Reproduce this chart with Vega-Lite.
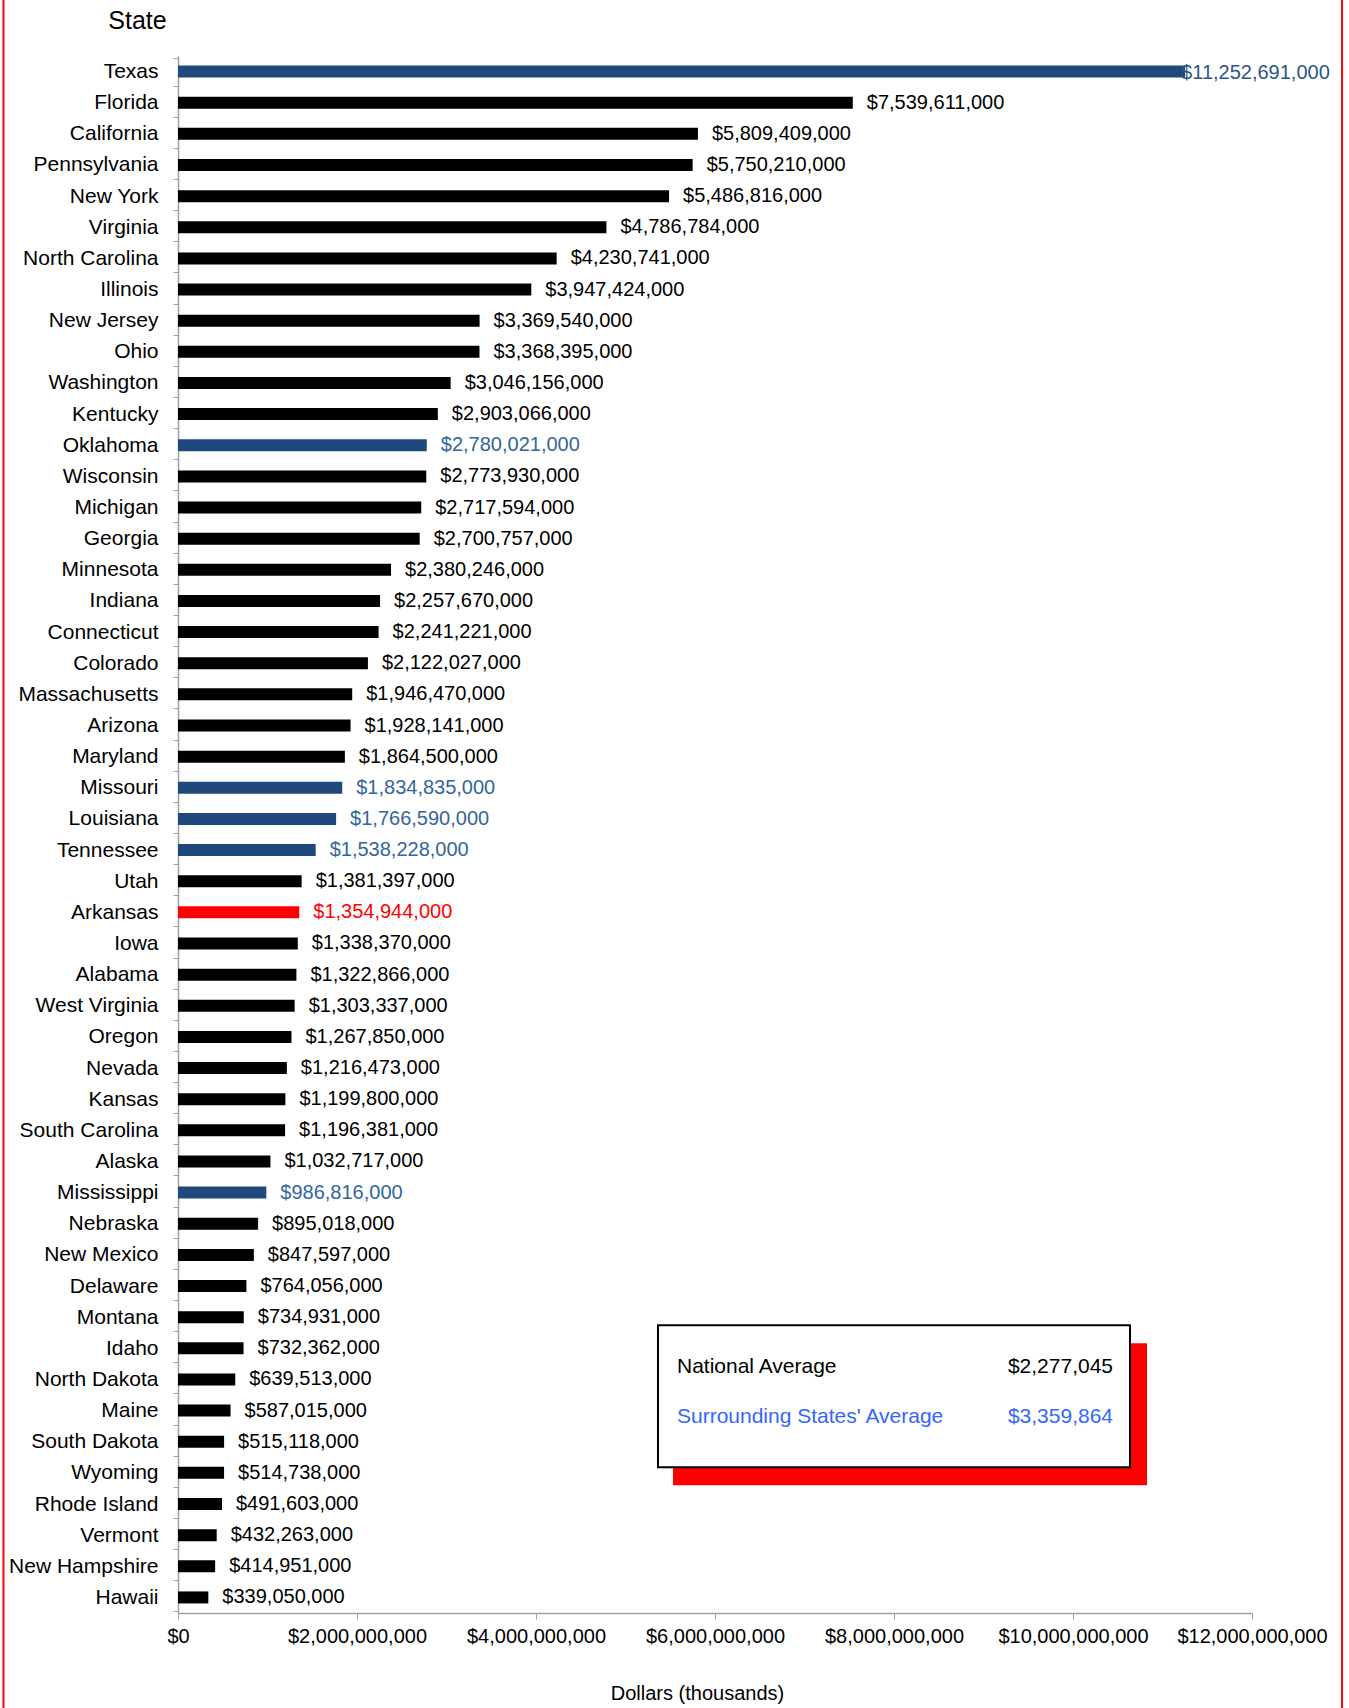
{
  "$schema": "https://vega.github.io/schema/vega-lite/v6.json",
  "width": 1074,
  "height": 1557,
  "autosize": "none",
  "padding": {"left": 178, "top": 56, "right": 97, "bottom": 95},
  "background": "white",
  "config": {
    "font": "Liberation Sans",
    "view": {"stroke": null}
  },
  "datasets": {
    "states": [
      {"state": "Texas", "value": 11252691000, "group": "surround"},
      {"state": "Florida", "value": 7539611000, "group": "other"},
      {"state": "California", "value": 5809409000, "group": "other"},
      {"state": "Pennsylvania", "value": 5750210000, "group": "other"},
      {"state": "New York", "value": 5486816000, "group": "other"},
      {"state": "Virginia", "value": 4786784000, "group": "other"},
      {"state": "North Carolina", "value": 4230741000, "group": "other"},
      {"state": "Illinois", "value": 3947424000, "group": "other"},
      {"state": "New Jersey", "value": 3369540000, "group": "other"},
      {"state": "Ohio", "value": 3368395000, "group": "other"},
      {"state": "Washington", "value": 3046156000, "group": "other"},
      {"state": "Kentucky", "value": 2903066000, "group": "other"},
      {"state": "Oklahoma", "value": 2780021000, "group": "surround"},
      {"state": "Wisconsin", "value": 2773930000, "group": "other"},
      {"state": "Michigan", "value": 2717594000, "group": "other"},
      {"state": "Georgia", "value": 2700757000, "group": "other"},
      {"state": "Minnesota", "value": 2380246000, "group": "other"},
      {"state": "Indiana", "value": 2257670000, "group": "other"},
      {"state": "Connecticut", "value": 2241221000, "group": "other"},
      {"state": "Colorado", "value": 2122027000, "group": "other"},
      {"state": "Massachusetts", "value": 1946470000, "group": "other"},
      {"state": "Arizona", "value": 1928141000, "group": "other"},
      {"state": "Maryland", "value": 1864500000, "group": "other"},
      {"state": "Missouri", "value": 1834835000, "group": "surround"},
      {"state": "Louisiana", "value": 1766590000, "group": "surround"},
      {"state": "Tennessee", "value": 1538228000, "group": "surround"},
      {"state": "Utah", "value": 1381397000, "group": "other"},
      {"state": "Arkansas", "value": 1354944000, "group": "arkansas"},
      {"state": "Iowa", "value": 1338370000, "group": "other"},
      {"state": "Alabama", "value": 1322866000, "group": "other"},
      {"state": "West Virginia", "value": 1303337000, "group": "other"},
      {"state": "Oregon", "value": 1267850000, "group": "other"},
      {"state": "Nevada", "value": 1216473000, "group": "other"},
      {"state": "Kansas", "value": 1199800000, "group": "other"},
      {"state": "South Carolina", "value": 1196381000, "group": "other"},
      {"state": "Alaska", "value": 1032717000, "group": "other"},
      {"state": "Mississippi", "value": 986816000, "group": "surround"},
      {"state": "Nebraska", "value": 895018000, "group": "other"},
      {"state": "New Mexico", "value": 847597000, "group": "other"},
      {"state": "Delaware", "value": 764056000, "group": "other"},
      {"state": "Montana", "value": 734931000, "group": "other"},
      {"state": "Idaho", "value": 732362000, "group": "other"},
      {"state": "North Dakota", "value": 639513000, "group": "other"},
      {"state": "Maine", "value": 587015000, "group": "other"},
      {"state": "South Dakota", "value": 515118000, "group": "other"},
      {"state": "Wyoming", "value": 514738000, "group": "other"},
      {"state": "Rhode Island", "value": 491603000, "group": "other"},
      {"state": "Vermont", "value": 432263000, "group": "other"},
      {"state": "New Hampshire", "value": 414951000, "group": "other"},
      {"state": "Hawaii", "value": 339050000, "group": "other"}
    ],
    "box": [
      {"part": "shadow", "x": 5531000000, "x2": 10827000000, "r": 41.34, "r2": 45.9},
      {"part": "box", "x": 5363000000, "x2": 10637000000, "r": 40.76, "r2": 45.32}
    ],
    "legendText": [
      {"series": "national", "label": "National Average", "amount": "$2,277,045", "x": 5575000000, "x2": 10447000000, "r": 42.11},
      {"series": "surround", "label": "Surrounding States' Average", "amount": "$3,359,864", "x": 5575000000, "x2": 10447000000, "r": 43.69}
    ],
    "border": [
      {"x": -1950000000, "r": -1.8, "r2": 53.2},
      {"x": 13006000000, "r": -1.8, "r2": 53.2}
    ]
  },
  "layer": [
    {
      "data": {"name": "states"},
      "encoding": {
        "y": {
          "field": "state",
          "type": "nominal",
          "sort": null,
          "axis": {
            "title": "State",
            "titleAngle": 0,
            "titleX": -41,
            "titleY": -36,
            "titleAlign": "center",
            "titleBaseline": "middle",
            "titleFontSize": 25,
            "titleFontWeight": "normal",
            "titleColor": "black",
            "labelFontSize": 21,
            "labelColor": "black",
            "labelPadding": 15,
            "labelLimit": 300,
            "tickSize": 5,
            "tickBand": "extent",
            "tickColor": "#a0a0a0",
            "domainColor": "#a0a0a0",
            "domainWidth": 1.5
          }
        },
        "x": {
          "field": "value",
          "type": "quantitative",
          "title": "Dollars (thousands)",
          "scale": {"domain": [0, 12000000000], "nice": false},
          "axis": {
            "titleFontSize": 20,
            "titleFontWeight": "normal",
            "titleColor": "black",
            "titlePadding": 37,
            "titleX": 519,
            "values": [0, 2000000000, 4000000000, 6000000000, 8000000000, 10000000000, 12000000000],
            "format": "$,.0f",
            "labelFontSize": 20,
            "labelColor": "black",
            "labelFlush": false,
            "labelOverlap": false,
            "labelPadding": 7,
            "tickSize": 6,
            "tickColor": "#a0a0a0",
            "domainColor": "#a0a0a0",
            "domainWidth": 1.5,
            "grid": false
          }
        }
      },
      "layer": [
        {
          "mark": {"type": "bar", "size": 12},
          "encoding": {
            "color": {
              "field": "group",
              "type": "nominal",
              "scale": {"domain": ["other", "surround", "arkansas"], "range": ["#000000", "#1f497d", "#ff0000"]},
              "legend": null
            }
          }
        },
        {
          "transform": [{"filter": "datum.state != 'Texas'"}],
          "mark": {"type": "text", "align": "left", "baseline": "middle", "dx": 14, "fontSize": 20},
          "encoding": {
            "text": {"field": "value", "type": "quantitative", "format": "$,.0f"},
            "color": {
              "field": "group",
              "type": "nominal",
              "scale": {"domain": ["other", "surround", "arkansas"], "range": ["#000000", "#336699", "#ff0000"]},
              "legend": null
            }
          }
        },
        {
          "transform": [{"filter": "datum.state == 'Texas'"}],
          "mark": {"type": "text", "align": "left", "baseline": "middle", "dx": -4, "dy": 1, "fontSize": 20, "color": "#2f5585"},
          "encoding": {
            "text": {"field": "value", "type": "quantitative", "format": "$,.0f"}
          }
        }
      ],
      "resolve": {"scale": {"color": "independent"}}
    },
    {
      "encoding": {
        "y": {"field": "r", "type": "quantitative", "scale": {"domain": [0, 50], "reverse": true, "nice": false, "zero": false}, "axis": null}
      },
      "layer": [
        {
          "data": {"name": "box"},
          "transform": [{"filter": "datum.part == 'shadow'"}],
          "mark": {"type": "rect", "fill": "#ff0000"},
          "encoding": {
            "x": {"field": "x", "type": "quantitative", "title": "Dollars (thousands)"},
            "x2": {"field": "x2"},
            "y2": {"field": "r2"}
          }
        },
        {
          "data": {"name": "box"},
          "transform": [{"filter": "datum.part == 'box'"}],
          "mark": {"type": "rect", "fill": "white", "stroke": "black", "strokeWidth": 2},
          "encoding": {
            "x": {"field": "x", "type": "quantitative", "title": "Dollars (thousands)"},
            "x2": {"field": "x2"},
            "y2": {"field": "r2"}
          }
        },
        {
          "data": {"name": "legendText"},
          "mark": {"type": "text", "align": "left", "baseline": "middle", "fontSize": 21},
          "encoding": {
            "x": {"field": "x", "type": "quantitative", "title": "Dollars (thousands)"},
            "text": {"field": "label"},
            "color": {
              "field": "series",
              "type": "nominal",
              "scale": {"domain": ["national", "surround"], "range": ["#000000", "#3366ff"]},
              "legend": null
            }
          }
        },
        {
          "data": {"name": "legendText"},
          "mark": {"type": "text", "align": "right", "baseline": "middle", "fontSize": 21},
          "encoding": {
            "x": {"field": "x2", "type": "quantitative", "title": "Dollars (thousands)"},
            "text": {"field": "amount"},
            "color": {
              "field": "series",
              "type": "nominal",
              "scale": {"domain": ["national", "surround"], "range": ["#000000", "#3366ff"]},
              "legend": null
            }
          }
        },
        {
          "data": {"name": "border"},
          "mark": {"type": "rule", "color": "#ff0000", "strokeWidth": 2},
          "encoding": {
            "x": {"field": "x", "type": "quantitative", "title": "Dollars (thousands)"},
            "y2": {"field": "r2"}
          }
        }
      ]
    }
  ],
  "resolve": {"scale": {"y": "independent", "color": "independent"}}
}
